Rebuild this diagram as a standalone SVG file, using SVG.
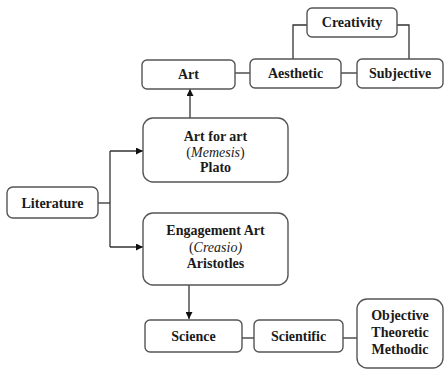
<svg xmlns="http://www.w3.org/2000/svg" width="444" height="370" viewBox="0 0 444 370" font-family="'Times New Roman', 'Liberation Serif', Tinos, 'Noto Serif', serif">
<style>
.box{fill:#fff;stroke:#555;stroke-width:1.4}
.t{font-family:'Times New Roman','Liberation Serif',Tinos,'Noto Serif',serif;font-size:14px;font-weight:bold;fill:#1a1a1a;text-anchor:middle;dominant-baseline:central}
.n{font-weight:normal}
.i{font-weight:normal;font-style:italic}
.c{fill:none;stroke:#333;stroke-width:1.3}
</style>
<defs>
<marker id="a" viewBox="0 0 10 10" refX="10" refY="5" markerWidth="7" markerHeight="7" orient="auto" markerUnits="userSpaceOnUse"><path d="M0,0L10,5L0,10z" fill="#111"/></marker>
</defs>
<rect width="444" height="370" fill="#fff"/>
<g id="connectors">
<path class="c" d="M98,203H110"/>
<path class="c" d="M110,151V247"/>
<path class="c" d="M110,151H143" marker-end="url(#a)"/>
<path class="c" d="M110,247H143" marker-end="url(#a)"/>
<path class="c" d="M190,118V89" marker-end="url(#a)"/>
<path class="c" d="M235,73H250"/>
<path class="c" d="M341,73H357"/>
<path class="c" d="M293,59V25H307"/>
<path class="c" d="M397,25H409V59"/>
<path class="c" d="M189,285V319" marker-end="url(#a)"/>
<path class="c" d="M242,338H254"/>
<path class="c" d="M343,338H357"/>
</g>
<g id="literature"><rect class="box" x="7" y="187" width="91" height="31" rx="6"/><text class="t" x="52.5" y="203">Literature</text></g>
<g id="artforart"><rect class="box" x="143" y="118" width="145" height="64" rx="10"/><text class="t" x="215.5" y="136">Art for art</text><text class="t" x="215.5" y="152"><tspan class="n">(</tspan><tspan class="i">Memesis</tspan><tspan class="n">)</tspan></text><text class="t" x="215.5" y="167.5">Plato</text></g>
<g id="engagement"><rect class="box" x="143" y="213" width="145" height="72" rx="10"/><text class="t" x="215.5" y="230">Engagement Art</text><text class="t" x="215.5" y="246.5"><tspan class="n">(</tspan><tspan class="i">Creasio)</tspan></text><text class="t" x="215.5" y="263">Aristotles</text></g>
<g id="art"><rect class="box" x="142" y="60" width="93" height="29" rx="5"/><text class="t" x="188.5" y="74.5">Art</text></g>
<g id="aesthetic"><rect class="box" x="250" y="59" width="91" height="29" rx="5"/><text class="t" x="295.5" y="73.5">Aesthetic</text></g>
<g id="subjective"><rect class="box" x="357" y="59" width="86" height="29" rx="5"/><text class="t" x="400" y="73.5">Subjective</text></g>
<g id="creativity"><rect class="box" x="307" y="8" width="90" height="29" rx="5"/><text class="t" x="352" y="22.5">Creativity</text></g>
<g id="science"><rect class="box" x="145" y="320" width="97" height="32" rx="5"/><text class="t" x="193.5" y="336">Science</text></g>
<g id="scientific"><rect class="box" x="254" y="320" width="89" height="32" rx="5"/><text class="t" x="298.5" y="336">Scientific</text></g>
<g id="objective"><rect class="box" x="357" y="299" width="86" height="69" rx="10"/><text class="t" x="400" y="315">Objective</text><text class="t" x="400" y="332">Theoretic</text><text class="t" x="400" y="349.5">Methodic</text></g>
</svg>
